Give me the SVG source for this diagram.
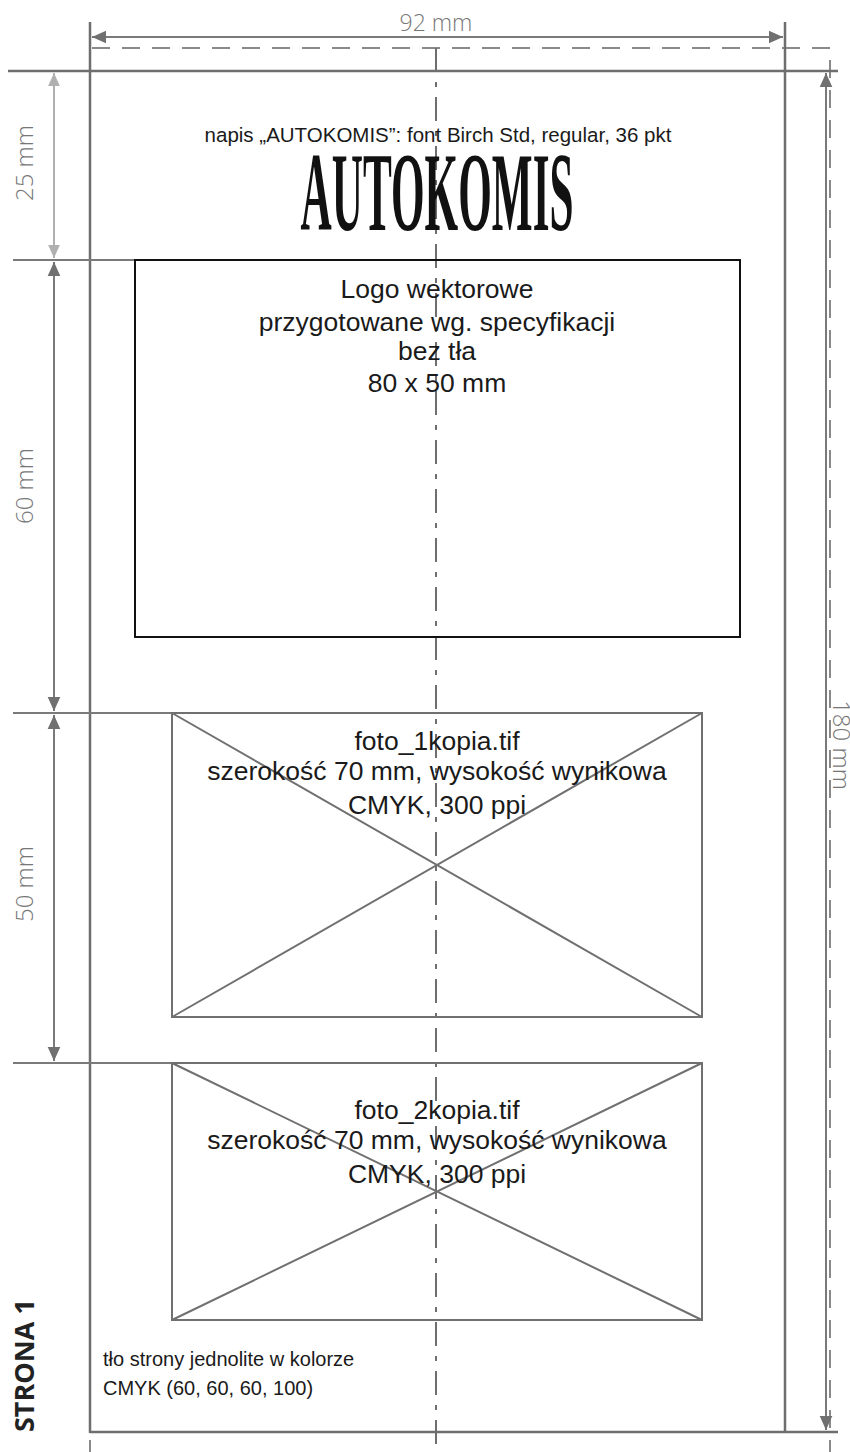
<svg xmlns="http://www.w3.org/2000/svg" width="850" height="1452" viewBox="0 0 850 1452">
<style>
.dim{stroke:#7a7a7a;stroke-width:2;fill:none}
.dimL{stroke:#b0b0b0;stroke-width:2;fill:none}
.frame{stroke:#6e6e6e;stroke-width:2.5;fill:none}
.bleed{stroke:#8a8a8a;stroke-width:2;fill:none;stroke-dasharray:18 12}
.axis{stroke:#6e6e6e;stroke-width:2;fill:none;stroke-dasharray:24 10 5 10}
.box{stroke:#111;stroke-width:2;fill:none}
.photo{stroke:#707070;stroke-width:2;fill:none}
.dimtxt{font-family:"Open Sans","DejaVu Sans",sans-serif;font-weight:300;fill:#777}
.txt{font-family:"Liberation Sans",Arial,sans-serif;fill:#1a1a1a;text-anchor:middle}
.note{font-family:"Liberation Sans",Arial,sans-serif;fill:#1a1a1a;font-size:20px}
</style>
<defs>
<marker id="ahL" viewBox="0 0 10 10" refX="10" refY="5" markerWidth="13" markerHeight="13" markerUnits="userSpaceOnUse" orient="auto-start-reverse"><path d="M0,0.5 L10,5 L0,9.5 z" fill="#b0b0b0"/></marker>
<marker id="ahB" viewBox="0 0 10 10" refX="10" refY="5" markerWidth="14" markerHeight="14" markerUnits="userSpaceOnUse" orient="auto-start-reverse"><path d="M0,0.5 L10,5 L0,9.5 z" fill="#707070"/></marker>
</defs>
<rect width="850" height="1452" fill="#fff"/>

<g id="connectors">
<path class="bleed" d="M92,48 H830 V1452"/>
<path class="bleed" d="M90,1440 V1452"/>
<line class="axis" x1="436" y1="48" x2="436" y2="1452"/>
<line class="frame" x1="8" y1="71" x2="838" y2="71"/>
<line class="frame" x1="90" y1="22" x2="90" y2="1433"/>
<line class="frame" x1="785" y1="22" x2="785" y2="1433"/>
<line class="frame" x1="90" y1="1432" x2="838" y2="1432"/>
<line class="dim" x1="92" y1="37" x2="783" y2="37" marker-start="url(#ahB)" marker-end="url(#ahB)"/>
<line class="dim" x1="13" y1="260" x2="135" y2="260"/>
<line class="dim" x1="13" y1="713" x2="172" y2="713"/>
<line class="dim" x1="13" y1="1063" x2="172" y2="1063"/>
<line class="dimL" x1="54" y1="73" x2="54" y2="258" marker-start="url(#ahL)" marker-end="url(#ahL)"/>
<line class="dim" x1="54" y1="262" x2="54" y2="711" marker-start="url(#ahB)" marker-end="url(#ahB)"/>
<line class="dim" x1="54" y1="715" x2="54" y2="1061" marker-start="url(#ahB)" marker-end="url(#ahB)"/>
<line class="dim" x1="826" y1="73" x2="826" y2="1430" marker-start="url(#ahB)" marker-end="url(#ahB)"/>
</g>

<g id="dim-labels">
<text class="dimtxt" x="436" y="31" font-size="23" text-anchor="middle">92 mm</text>
<text class="dimtxt" transform="translate(33,163) rotate(-90)" font-size="24" text-anchor="middle">25 mm</text>
<text class="dimtxt" transform="translate(33,486) rotate(-90)" font-size="24" text-anchor="middle">60 mm</text>
<text class="dimtxt" transform="translate(33,884) rotate(-90)" font-size="24" text-anchor="middle">50 mm</text>
<text class="dimtxt" transform="translate(833,745) rotate(90)" font-size="24" text-anchor="middle">180 mm</text>
</g>

<g id="title">
<text class="txt" x="438" y="142" font-size="20.5">napis „AUTOKOMIS”: font Birch Std, regular, 36 pkt</text>
<text x="437" y="230" font-family="'Liberation Serif','Times New Roman',serif" font-weight="700" font-size="112" fill="#111" text-anchor="middle" textLength="273" lengthAdjust="spacingAndGlyphs">AUTOKOMIS</text>
</g>

<g id="logo">
<rect class="box" x="135" y="260" width="605" height="377"/>
<text class="txt" font-size="26.5"><tspan x="437" y="298">Logo wektorowe</tspan><tspan x="437" y="331">przygotowane wg. specyfikacji</tspan><tspan x="437" y="360">bez tła</tspan><tspan x="437" y="392">80 x 50 mm</tspan></text>
</g>

<g id="foto1">
<rect class="photo" x="172" y="713" width="530" height="304"/>
<path class="photo" d="M172,713 L702,1017 M702,713 L172,1017"/>
<text class="txt" font-size="26.5"><tspan x="437" y="750">foto_1kopia.tif</tspan><tspan x="437" y="780">szerokość 70 mm, wysokość wynikowa</tspan><tspan x="437" y="814">CMYK, 300 ppi</tspan></text>
</g>

<g id="foto2">
<rect class="photo" x="172" y="1063" width="530" height="257"/>
<path class="photo" d="M172,1063 L702,1320 M702,1063 L172,1320"/>
<text class="txt" font-size="26.5"><tspan x="437" y="1119">foto_2kopia.tif</tspan><tspan x="437" y="1149">szerokość 70 mm, wysokość wynikowa</tspan><tspan x="437" y="1183">CMYK, 300 ppi</tspan></text>
</g>

<g id="strona">
<text transform="translate(34,1432) rotate(-90)" font-family="'Open Sans','DejaVu Sans',sans-serif" font-weight="700" font-size="27" fill="#222">STRONA 1</text>
</g>

<g id="note">
<text class="note"><tspan x="103" y="1366">tło strony jednolite w kolorze</tspan><tspan x="103" y="1395">CMYK (60, 60, 60, 100)</tspan></text>
</g>
</svg>
